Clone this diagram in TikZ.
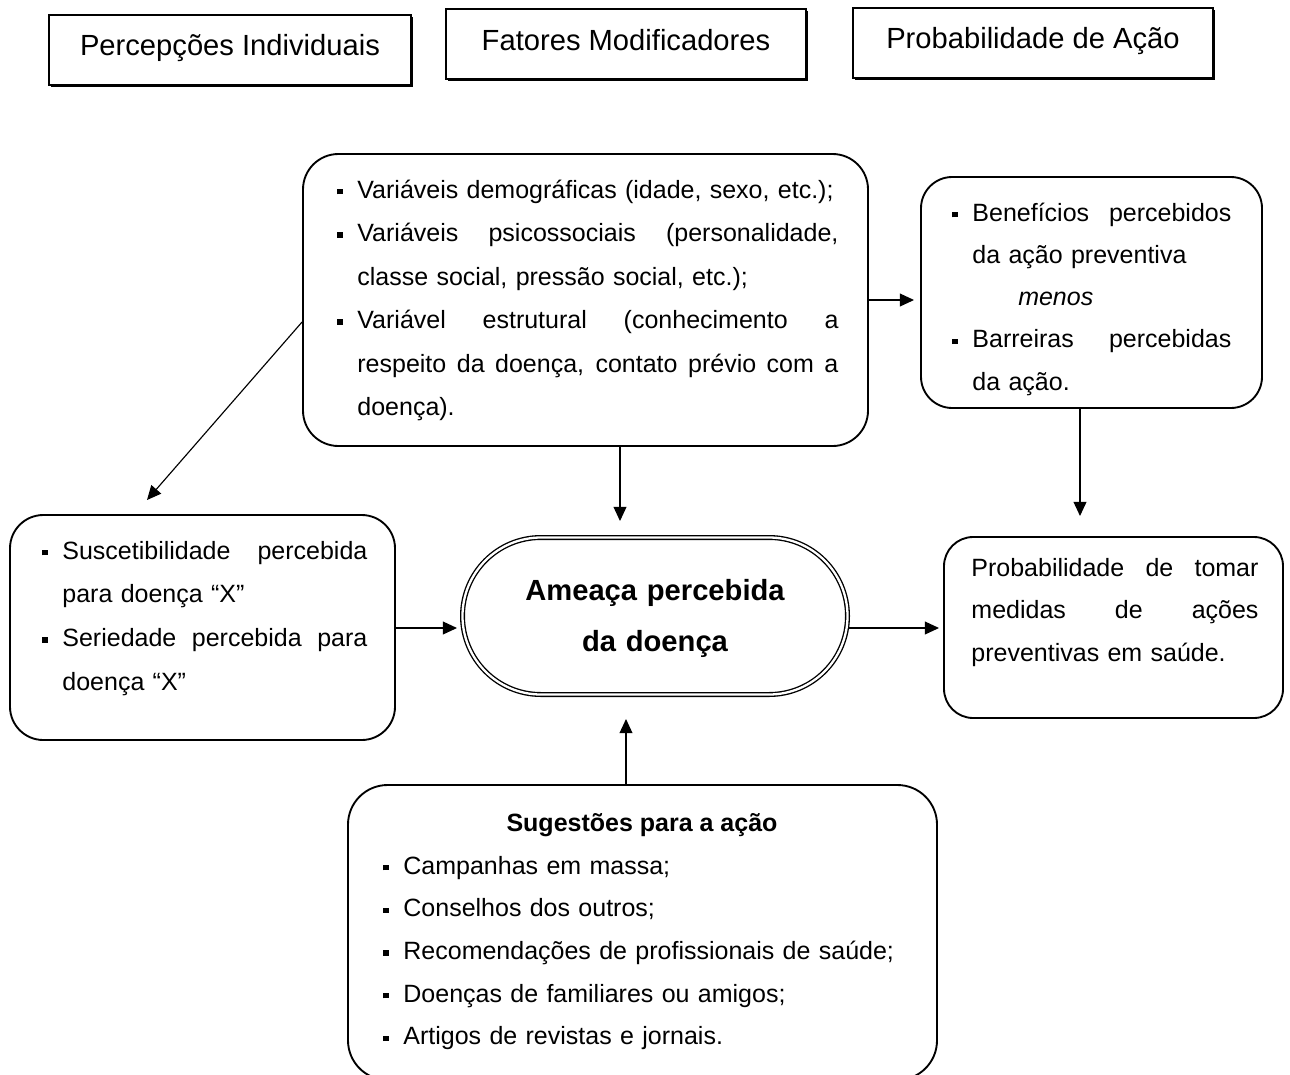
\documentclass[tikz,border=0pt]{standalone}
\usepackage{fontspec}
\setmainfont{Liberation Sans}
\usetikzlibrary{arrows.meta,shapes.misc,calc,shadows}
\newlength\mybi \setlength\mybi{9.6pt}
\newcommand\mybul{\makebox[\mybi][l]{\rule[1.8pt]{2.6pt}{2.6pt}}}
\newcommand\myind{\hspace*{\mybi}}
\newcommand\myjl[2]{\leavevmode\hbox to #1{\spaceskip=0.278em plus 1fil\relax #2}}
\begin{document}
\begin{tikzpicture}[x=0.48pt,y=-0.48pt,
  rbox/.style n args={3}{draw, line width=0.9pt, rounded corners=#3,
     minimum width=#1*0.48pt, minimum height=#2*0.48pt, inner sep=0pt},
  tbox/.style 2 args={draw, line width=0.9pt, fill=white,
     minimum width=#1*0.48pt, minimum height=#2*0.48pt, inner sep=0pt,
     drop shadow={shadow xshift=0.9pt, shadow yshift=-0.9pt, opacity=1, fill=black}},
  txt/.style={inner sep=0pt, align=left, font=\fontsize{12}{#1}\selectfont},
  ttl/.style={inner sep=0pt, font=\fontsize{14}{16}\selectfont},
  arr/.style={line width=0.55pt, -{Triangle[length=6.8pt,width=6.2pt]}}]
\useasboundingbox (0,0) rectangle (1290,1074);
\clip (0,0) rectangle (1290,1074);

% top header boxes
\node[tbox={362}{70}] (T1) at (230,50) {};
\node[tbox={360}{70}] (T2) at (626,44) {};
\node[tbox={360}{70}] (T3) at (1033,43) {};
\node[ttl, anchor=base] (T1t) at (230,55) {Percepções Individuais};
\node[ttl, anchor=base] (T2t) at (626,50) {Fatores Modificadores};
\node[ttl, anchor=base] (T3t) at (1033,48) {Probabilidade de Ação};

% main boxes
\node[rbox={565}{292}{17pt}] (F) at (585.5,300) {};
\node[rbox={341}{231}{15pt}] (R1) at (1091.5,292.5) {};
\node[rbox={385}{225}{16pt}] (L) at (202.5,627.5) {};
\node[rbox={339}{181}{14pt}] (P) at (1113.5,627.5) {};
\node[rbox={589}{295}{19pt}] (B) at (642.5,932.5) {};
\node[draw, rounded rectangle, line width=0.65pt, double, double distance=1.1pt,
      minimum width=385*0.48pt, minimum height=157*0.48pt, inner sep=0pt] (C) at (655,616) {};

% texts
\node[txt=20.9pt, text width=501*0.48pt, anchor=base west] (Ft) at (337,198) {%
\mybul Variáveis demográficas (idade, sexo, etc.);\\
\mybul\myjl{230.9pt}{Variáveis psicossociais (personalidade,}\\
\myind classe social, pressão social, etc.);\\
\mybul\myjl{230.9pt}{Variável estrutural (conhecimento a}\\
\myind\myjl{230.9pt}{respeito da doença, contato prévio com a}\\
\myind doença).};

\node[txt=20.3pt, text width=280*0.48pt, anchor=base west] (R1t) at (952,221) {%
\mybul\myjl{124.3pt}{Benefícios percebidos}\\
\myind da ação preventiva\\
\myind\hspace*{22pt}\textit{menos}\\
\mybul\myjl{124.3pt}{Barreiras percebidas}\\
\myind da ação.};

\node[txt=21pt, text width=324*0.48pt, anchor=base west] (Lt) at (42,559) {%
\mybul\myjl{146.4pt}{Suscetibilidade percebida}\\
\myind para doença “X”\\
\mybul\myjl{146.4pt}{Seriedade percebida para}\\
\myind doença “X”};

\node[txt=20.6pt, text width=287*0.48pt, anchor=base west] (Pt) at (971,576) {%
\myjl{137.8pt}{Probabilidade de tomar}\\
\myjl{137.8pt}{medidas de ações}\\
preventivas em saúde.};

\node[inner sep=0pt, text width=390*0.48pt, align=center, anchor=base,
      font=\bfseries\fontsize{14}{24.5}\selectfont] (Ct) at (655,600) {Ameaça percebida\\da doença};

\node[inner sep=0pt, anchor=base, font=\bfseries\fontsize{12}{14}\selectfont] (Bh) at (642,831) {Sugestões para a ação};
\node[txt=20.5pt, text width=540*0.48pt, anchor=base west] (Bt) at (383,874) {%
\mybul Campanhas em massa;\\
\mybul Conselhos dos outros;\\
\mybul Recomendações de profissionais de saúde;\\
\mybul Doenças de familiares ou amigos;\\
\mybul Artigos de revistas e jornais.};

% connectors
\coordinate (s1) at (303,322);
\coordinate (e1) at (147,500);
\coordinate (e2) at (620,521);
\coordinate (e3) at (914,300);
\coordinate (e4) at (1080,516);
\coordinate (e5) at (457,628);
\coordinate (e6) at (939,628);
\coordinate (e7) at (626,719);
\draw[arr] (F.west |- s1) -- (e1);
\draw[arr] (F.south -| e2) -- (e2);
\draw[arr] (F.east |- e3) -- (e3);
\draw[arr] (R1.south -| e4) -- (e4);
\draw[arr] (L.east |- e5) -- (e5);
\draw[arr] (C.east |- e6) -- (e6);
\draw[arr] (B.north -| e7) -- (e7);
\end{tikzpicture}
\end{document}
